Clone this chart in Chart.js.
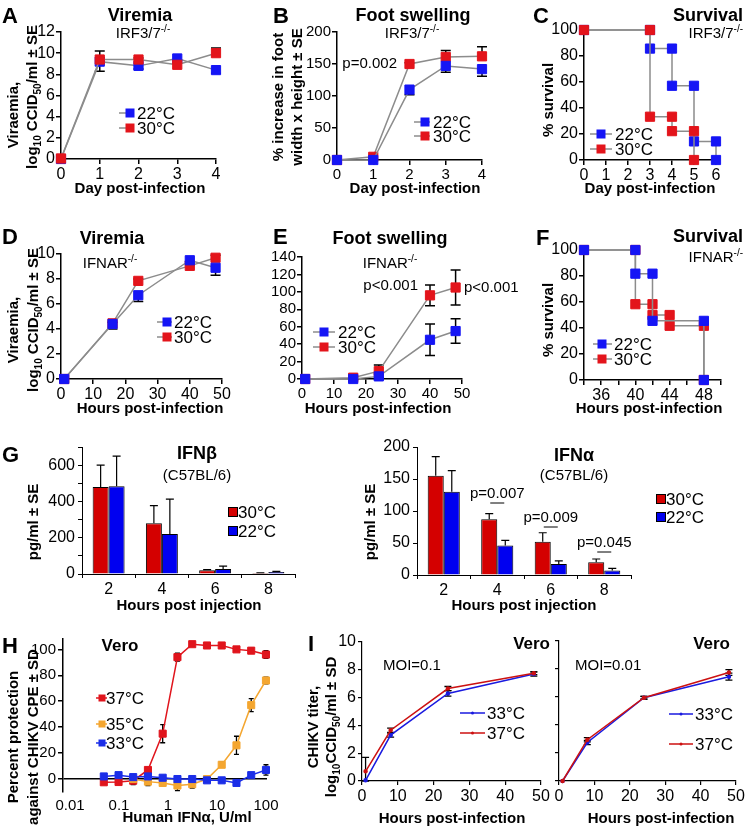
<!DOCTYPE html>
<html>
<head>
<meta charset="utf-8">
<script src="https://cdn.jsdelivr.net/npm/chart.js@4.4.1/dist/chart.umd.min.js"></script>
<style>
html, body { margin: 0; padding: 0; background: #fff; }
#wrap { position: relative; width: 748px; height: 828px; overflow: hidden; background: #fff; }
#wrap canvas { position: absolute; left: 0; top: 0; }
</style>
</head>
<body>
<div id="wrap"></div>
<script>
// ---- data ----
var tempLabels = ['22°C', '30°C'];

// A: viremia, IRF3/7-/-
var daysAB = [0, 1, 2, 3, 4];
var viremA22 = [0, 9.2, 8.8, 9.5, 8.4];
var viremA22Se = [0, 0.9, 0.3, 0.15, 0.3];
var viremA30 = [0.05, 9.4, 9.4, 8.9, 10.0];
var viremA30Se = [0, 0.8, 0.15, 0.15, 0.5];

// B: foot swelling, IRF3/7-/-
var footB22 = [0, 0, 110, 147, 142];
var footB22Se = [0, 0, 8, 10, 11];
var footB30 = [0, 5, 150, 161, 162];
var footB30Se = [0, 0, 2, 10, 15];

// C: survival, IRF3/7-/-
var survC22Day = [0, 3, 3, 4, 4, 5, 5, 6, 6];
var survC22 = [100, 100, 85.7, 85.7, 57.1, 57.1, 14.3, 14.3, 0];
var survC30Day = [0, 3, 3, 4, 4, 5, 5];
var survC30 = [100, 100, 33.3, 33.3, 22.2, 22.2, 0];

// D: viremia, IFNAR-/-
var hoursDE = [1, 16, 24, 40, 48];
var viremD22 = [0, 4.4, 6.7, 9.5, 8.9];
var viremD22Se = [0, 0.4, 0.5, 0.1, 0.6];
var viremD30 = [0, 4.45, 7.85, 9.05, 9.7];
var viremD30Se = [0, 0.1, 0.15, 0.1, 0.2];

// E: foot swelling, IFNAR-/-
var footE22 = [0, 0, 3, 45, 55];
var footE22Se = [0, 1, 3, 18, 14];
var footE30 = [0, 1.5, 9, 96, 105];
var footE30Se = [0, 2, 7, 12, 20];

// F: survival, IFNAR-/-
var survF22Hr = [34, 40, 40, 42, 42, 48, 48];
var survF22 = [100, 100, 81.8, 81.8, 45.5, 45.5, 0];
var survF30Hr = [34, 40, 40, 42, 42, 44, 44, 48, 48];
var survF30 = [100, 100, 58.3, 58.3, 50, 50, 41.7, 41.7, 0];
var survFTicks = [34, 36, 38, 40, 42, 44, 46, 48, 50];
var survFLabels = [36, 40, 44, 48];

// G: serum IFN
var injHours = ['2', '4', '6', '8'];
var gLabels = ['30°C', '22°C'];
var ifnB30 = [480, 280, 20, 5];
var ifnB30Se = [120, 97, 4, 2];
var ifnB22 = [484, 221, 28, 11];
var ifnB22Se = [166, 192, 15, 4];
var ifnBTicks = [0, 100, 200, 300, 400, 500, 600, 700];
var ifnA30 = [155, 87, 52, 20];
var ifnA30Se = [30, 9, 14, 5];
var ifnA22 = [130, 46, 17, 7];
var ifnA22Se = [33, 8, 5, 3.5];
var ifnAP = ['', 'p=0.007', 'p=0.009', 'p=0.045'];

// H: protection vs IFNa dose
var hLabels = ['37°C', '35°C', '33°C'];
var ifnDose = [0.049, 0.098, 0.195, 0.39, 0.78, 1.56, 3.125, 6.25, 12.5, 25, 50, 100];
var prot37 = [-2.5, -2.3, -1.3, 7, 35, 94, 104, 103, 103, 100, 99, 96];
var prot37Sd = [1, 1, 3, 1, 7, 3, 1, 1, 1, 1, 2, 3];
var prot35 = [null, null, 0, -2, -3, -5, -4, 0, 11, 26, 57, 76];
var prot35Sd = [0, 0, 1, 3, 2, 4, 3, 1, 2, 7, 5, 2.5];
var prot33 = [2, 3, 1.5, 2, 1, 0, 0, -1, -1, -3, 3, 7];
var prot33Sd = [1, 1, 1, 1, 1, 1, 1, 1, 1, 1, 1, 4];
var doseTicks = [0.01, 0.1, 1, 10, 100];

// I: CHIKV growth in Vero
var iLabels = ['33°C', '37°C'];
var hoursI = [1, 8, 24, 48];
var titer01_33 = [0.05, 3.3, 6.3, 7.7];
var titer01_33Sd = [0, 0.15, 0.2, 0.15];
var titer01_37 = [0.7, 3.65, 6.65, 7.75];
var titer01_37Hi = [1.0, 0.15, 0.15, 0.1];
var titer01_37Lo = [0.7, 0.15, 0.15, 0.1];
var titer001_33 = [0, 2.75, 5.95, 7.45];
var titer001_33Sd = [0, 0.15, 0.1, 0.25];
var titer001_37 = [0, 2.95, 5.95, 7.75];
var titer001_37Sd = [0, 0.15, 0.1, 0.2];

// ---- helpers ----
var W = 748, H = 828, Y_W = 50, X_H = 24;
var FONT = '"Liberation Sans", Arial, Helvetica, sans-serif';
var GREY = '#8c8c8c', BLUE = '#1515f5', RED = '#e3141b';
var RED_BAR = '#d40000', BLUE_BAR = '#0000f0';
var RED_H = '#e0141c', ORANGE = '#f4a630', BLUE_H = '#1b2ee8';
var BLUE_I = '#1a1adf', RED_I = '#cc1111';
var wrap = document.getElementById('wrap');

function rich(ctx, x, y, parts, size, bold, align, rot) {
  ctx.save();
  ctx.translate(x, y);
  if (rot) ctx.rotate(-Math.PI / 2);
  var segs = parts.map(function(p) {
    return typeof p === 'string' ? {t: p, m: ''} : {t: p[0], m: p[1]};
  });
  var total = 0;
  segs.forEach(function(s) {
    s.fs = s.m ? Math.round(size * 0.65) : size;
    ctx.font = (bold ? 'bold ' : '') + s.fs + 'px ' + FONT;
    s.w = ctx.measureText(s.t).width;
    total += s.w;
  });
  var cx = align === 'center' ? -total / 2 : (align === 'right' ? -total : 0);
  ctx.textAlign = 'left';
  ctx.textBaseline = 'alphabetic';
  ctx.fillStyle = '#000';
  segs.forEach(function(s) {
    ctx.font = (bold ? 'bold ' : '') + s.fs + 'px ' + FONT;
    var dy = s.m === 'sup' ? -size * 0.4 : (s.m === 'sub' ? size * 0.25 : 0);
    ctx.fillText(s.t, cx, size * 0.36 + dy);
    cx += s.w;
  });
  ctx.restore();
}

function txt(ctx, s, x, y, size, bold, align) {
  rich(ctx, x, y, [s], size, bold, align || 'center');
}

function legendItem(ctx, o) {
  ctx.save();
  if (o.line) {
    ctx.strokeStyle = o.line;
    ctx.lineWidth = o.lw || 1.5;
    ctx.beginPath();
    ctx.moveTo(o.x0, o.y);
    ctx.lineTo(o.x1, o.y);
    ctx.stroke();
  }
  ctx.fillStyle = o.fill;
  if (o.style === 'circle') {
    ctx.beginPath();
    ctx.arc(o.mx, o.y, o.side / 2, 0, Math.PI * 2);
    ctx.fill();
  } else {
    ctx.fillRect(o.mx - o.side / 2, o.y - o.side / 2, o.side, o.side);
    if (o.border) {
      ctx.strokeStyle = o.border;
      ctx.lineWidth = 1;
      ctx.strokeRect(o.mx - o.side / 2, o.y - o.side / 2, o.side, o.side);
    }
  }
  ctx.restore();
  txt(ctx, o.label, o.tx, o.y, o.size || 17, false, 'left');
}

function pts(xs, ys, hi, lo) {
  var out = [];
  for (var i = 0; i < xs.length; i++) {
    if (ys[i] == null) continue;
    out.push({x: xs[i], y: ys[i], hi: hi ? hi[i] : 0, lo: lo ? lo[i] : 0});
  }
  return out;
}

function drawErr(chart, front) {
  var ctx = chart.ctx, ys = chart.scales.y;
  chart.data.datasets.forEach(function(ds, i) {
    if (!!ds.errFront !== front) return;
    var meta = chart.getDatasetMeta(i);
    ctx.save();
    ctx.strokeStyle = ds.errColor || '#000';
    ctx.lineWidth = ds.errWidth || 1.5;
    meta.data.forEach(function(el, j) {
      var raw = ds.data[j], v, hi, lo;
      if (raw !== null && typeof raw === 'object') { v = raw.y; hi = raw.hi; lo = raw.lo; }
      else { v = raw; hi = ds.errHi ? ds.errHi[j] : 0; lo = ds.errLo ? ds.errLo[j] : 0; }
      var y = ys.getPixelForValue(v), cap = ds.capW || 4;
      [[hi, 1], [lo, -1]].forEach(function(p) {
        if (!p[0]) return;
        var ye = ys.getPixelForValue(v + p[1] * p[0]);
        ctx.beginPath();
        ctx.moveTo(el.x, y); ctx.lineTo(el.x, ye);
        ctx.moveTo(el.x - cap, ye); ctx.lineTo(el.x + cap, ye);
        ctx.stroke();
      });
    });
    ctx.restore();
  });
}

var errorBars = {
  id: 'errorBars',
  beforeDatasetsDraw: function(chart) { drawErr(chart, false); },
  afterDatasetsDraw: function(chart) { drawErr(chart, true); }
};

function axisCfg(o) {
  var isX = o.axis === 'x';
  return {
    type: o.type || 'linear',
    position: isX ? 'bottom' : 'left',
    min: o.min, max: o.max,
    offset: !!o.offset,
    border: {display: o.line !== false, color: '#000', width: o.lw || 1.5},
    grid: {
      display: o.marks !== false,
      drawOnChartArea: !!o.zeroLine,
      drawTicks: true,
      tickLength: o.tickLen == null ? 5 : o.tickLen,
      color: o.zeroLine ? function(c) { return c.tick && c.tick.value === 0 ? '#000' : 'rgba(0,0,0,0)'; } : '#000',
      tickColor: '#000',
      lineWidth: o.lw || 1.5,
      offset: !!o.offset
    },
    ticks: {
      color: '#000',
      font: {family: FONT, size: o.size || 15},
      padding: o.pad == null ? 1 : o.pad,
      autoSkip: false,
      maxRotation: 0,
      callback: function(v, i) { return o.label ? o.label(v, i) : String(v); }
    },
    afterBuildTicks: function(sc) {
      if (o.values) sc.ticks = o.values.map(function(v) { return {value: v}; });
    },
    afterFit: function(sc) {
      if (isX) sc.height = X_H; else sc.width = Y_W;
    }
  };
}

function makeChart(box, type, datasets, xCfg, yCfg, draw, labels) {
  var cv = document.createElement('canvas');
  cv.width = W; cv.height = H;
  cv.style.width = W + 'px'; cv.style.height = H + 'px';
  wrap.appendChild(cv);
  var data = {datasets: datasets};
  if (labels) data.labels = labels;
  return new Chart(cv.getContext('2d'), {
    type: type,
    data: data,
    options: {
      responsive: false,
      animation: false,
      devicePixelRatio: 1,
      events: [],
      layout: {padding: {left: box.l - Y_W, top: box.t, right: W - box.r, bottom: H - box.b - X_H}},
      plugins: {legend: {display: false}, tooltip: {enabled: false}, title: {display: false}},
      scales: {x: xCfg, y: yCfg}
    },
    plugins: [errorBars, {id: 'decor', afterDraw: function(chart) { draw(chart.ctx, chart); }}]
  });
}

function greyLine(data, color) {
  return {
    data: data, borderColor: GREY, borderWidth: 1.5, tension: 0, clip: false,
    pointStyle: 'rect', pointRadius: 6.5, pointBackgroundColor: color, pointBorderColor: color,
    pointBorderWidth: 1, capW: 5
  };
}

function abLegend(ctx, x0, x1, mx, tx, y1, y2) {
  legendItem(ctx, {x0: x0, x1: x1, mx: mx, y: y1, line: GREY, fill: BLUE, side: 9, tx: tx, label: tempLabels[0]});
  legendItem(ctx, {x0: x0, x1: x1, mx: mx, y: y2, line: GREY, fill: RED, side: 9, tx: tx, label: tempLabels[1]});
}

var viraemiaTitle = ['log', ['10', 'sub'], ' CCID', ['50', 'sub'], '/ml ± SE'];

// ---- A ----
makeChart({l: 61, t: 32, r: 216, b: 159}, 'line', [
  greyLine(pts(daysAB, viremA30, viremA30Se, null), RED),
  greyLine(pts(daysAB, viremA22, null, viremA22Se), BLUE)
], axisCfg({axis: 'x', min: 0, max: 4, values: daysAB, size: 16}),
   axisCfg({axis: 'y', min: 0, max: 12, values: [0, 2, 4, 6, 8, 10, 12], size: 16}),
function(ctx) {
  txt(ctx, 'A', 2, 15, 22, true, 'left');
  txt(ctx, 'Viremia', 140, 15, 18, true);
  rich(ctx, 143, 33, ['IRF3/7', ['-/-', 'sup']], 15, false, 'center');
  rich(ctx, 13, 115, ['Viraemia,'], 15, true, 'center', true);
  rich(ctx, 32, 97, viraemiaTitle, 15, true, 'center', true);
  txt(ctx, 'Day post-infection', 140, 188, 15, true);
  abLegend(ctx, 119, 134, 130, 137, 113, 128);
});

// ---- B ----
makeChart({l: 337, t: 32, r: 482, b: 160}, 'line', [
  greyLine(pts(daysAB, footB22, null, footB22Se), BLUE),
  greyLine(pts(daysAB, footB30, footB30Se, null), RED)
], axisCfg({axis: 'x', min: 0, max: 4, values: daysAB, size: 15}),
   axisCfg({axis: 'y', min: 0, max: 200, values: [0, 50, 100, 150, 200], size: 15}),
function(ctx) {
  txt(ctx, 'B', 273, 15, 22, true, 'left');
  txt(ctx, 'Foot swelling', 413, 15, 18, true);
  rich(ctx, 412, 33, ['IRF3/7', ['-/-', 'sup']], 15, false, 'center');
  rich(ctx, 278, 97, ['% increase in foot'], 15, true, 'center', true);
  rich(ctx, 297, 97, ['width x height ± SE'], 15, true, 'center', true);
  txt(ctx, 'Day post-infection', 415, 188, 15, true);
  txt(ctx, 'p=0.002', 397, 63, 15, false, 'right');
  abLegend(ctx, 414, 430, 425, 433, 122, 136);
});

// ---- C ----
makeChart({l: 584, t: 30, r: 716, b: 160}, 'line', [
  greyLine(pts(survC30Day, survC30), RED),
  greyLine(pts(survC22Day, survC22), BLUE)
], axisCfg({axis: 'x', min: 0, max: 6, values: [0, 1, 2, 3, 4, 5, 6], size: 16}),
   axisCfg({axis: 'y', min: 0, max: 100, values: [0, 20, 40, 60, 80, 100], size: 16}),
function(ctx) {
  txt(ctx, 'C', 533, 15, 22, true, 'left');
  txt(ctx, 'Survival', 743, 15, 18, true, 'right');
  rich(ctx, 743, 33, ['IRF3/7', ['-/-', 'sup']], 15, false, 'right');
  rich(ctx, 548, 100, ['% survival'], 15, true, 'center', true);
  txt(ctx, 'Day post-infection', 650, 188, 15, true);
  abLegend(ctx, 590, 612, 601, 615, 134, 149);
});

// ---- D ----
makeChart({l: 61, t: 254, r: 222, b: 379}, 'line', [
  greyLine(pts(hoursDE, viremD22, null, viremD22Se), BLUE),
  greyLine(pts(hoursDE, viremD30, viremD30Se, null), RED)
], axisCfg({axis: 'x', min: 0, max: 50, values: [0, 10, 20, 30, 40, 50], size: 16}),
   axisCfg({axis: 'y', min: 0, max: 10, values: [0, 2, 4, 6, 8, 10], size: 16}),
function(ctx) {
  txt(ctx, 'D', 2, 236, 22, true, 'left');
  txt(ctx, 'Viremia', 112, 238, 18, true);
  rich(ctx, 110, 263, ['IFNAR', ['-/-', 'sup']], 15, false, 'center');
  rich(ctx, 13, 330, ['Viraemia,'], 15, true, 'center', true);
  rich(ctx, 33, 320, viraemiaTitle, 15, true, 'center', true);
  txt(ctx, 'Hours post-infection', 150, 408, 15, true);
  abLegend(ctx, 157, 172, 167, 174, 322, 337);
});

// ---- E ----
makeChart({l: 302, t: 257, r: 462, b: 379}, 'line', [
  greyLine(pts(hoursDE, footE22, footE22Se, footE22Se), BLUE),
  greyLine(pts(hoursDE, footE30, footE30Se, footE30Se), RED)
], axisCfg({axis: 'x', min: 0, max: 50, values: [0, 10, 20, 30, 40, 50], size: 15}),
   axisCfg({axis: 'y', min: 0, max: 140, values: [0, 20, 40, 60, 80, 100, 120, 140], size: 15}),
function(ctx) {
  txt(ctx, 'E', 273, 236, 22, true, 'left');
  txt(ctx, 'Foot swelling', 390, 238, 18, true);
  rich(ctx, 390, 263, ['IFNAR', ['-/-', 'sup']], 15, false, 'center');
  txt(ctx, 'p<0.001', 418, 285, 15, false, 'right');
  txt(ctx, 'p<0.001', 464, 287, 15, false, 'left');
  txt(ctx, 'Hours post-infection', 378, 408, 15, true);
  abLegend(ctx, 313, 335, 324, 338, 332, 347);
});

// ---- F ----
makeChart({l: 584, t: 250, r: 721, b: 380}, 'line', [
  greyLine(pts(survF22Hr, survF22), BLUE),
  greyLine(pts(survF30Hr, survF30), RED)
], axisCfg({axis: 'x', min: 34, max: 50, values: survFTicks, size: 16,
            label: function(v) { return survFLabels.indexOf(v) >= 0 ? String(v) : ''; }}),
   axisCfg({axis: 'y', min: 0, max: 100, values: [0, 20, 40, 60, 80, 100], size: 16}),
function(ctx) {
  txt(ctx, 'F', 536, 237, 22, true, 'left');
  txt(ctx, 'Survival', 743, 236, 18, true, 'right');
  rich(ctx, 743, 257, ['IFNAR', ['-/-', 'sup']], 15, false, 'right');
  rich(ctx, 548, 320, ['% survival'], 15, true, 'center', true);
  txt(ctx, 'Hours post-infection', 649, 408, 15, true);
  abLegend(ctx, 593, 612, 602, 614, 344, 359);
});

// ---- G ----
function barSet(vals, se, color) {
  return {data: vals, errHi: se, backgroundColor: color, borderColor: '#000', borderWidth: 1,
          categoryPercentage: 0.6, barPercentage: 1.0, errFront: true, errWidth: 1.2, capW: 4};
}
function gLegend(ctx, mx, y1, y2) {
  legendItem(ctx, {mx: mx, y: y1, fill: RED_BAR, border: '#000', side: 9, tx: mx + 5, label: gLabels[0]});
  legendItem(ctx, {mx: mx, y: y2, fill: BLUE_BAR, border: '#000', side: 9, tx: mx + 5, label: gLabels[1]});
}

makeChart({l: 82, t: 447, r: 295, b: 574}, 'bar', [
  barSet(ifnB30, ifnB30Se, RED_BAR),
  barSet(ifnB22, ifnB22Se, BLUE_BAR)
], axisCfg({axis: 'x', type: 'category', offset: true, size: 16, lw: 1, tickLen: 4, pad: 2,
            label: function(v) { return injHours[v]; }}),
   axisCfg({axis: 'y', min: 0, max: 700, values: ifnBTicks, size: 16, lw: 1, tickLen: 4, pad: 3,
            label: function(v) { return v % 200 === 0 ? String(v) : ''; }}),
function(ctx) {
  txt(ctx, 'G', 2, 454, 22, true, 'left');
  txt(ctx, 'IFNβ', 197, 453, 18, true);
  txt(ctx, '(C57BL/6)', 197, 475, 15, false);
  rich(ctx, 33, 522, ['pg/ml ± SE'], 15, true, 'center', true);
  txt(ctx, 'Hours post injection', 189, 605, 15, true);
  gLegend(ctx, 233, 512, 531);
}, injHours);

var pY = [0, 493, 517, 542];
makeChart({l: 417, t: 447, r: 631, b: 575}, 'bar', [
  barSet(ifnA30, ifnA30Se, RED_BAR),
  barSet(ifnA22, ifnA22Se, BLUE_BAR)
], axisCfg({axis: 'x', type: 'category', offset: true, size: 16, lw: 1, tickLen: 4, pad: 2,
            label: function(v) { return injHours[v]; }}),
   axisCfg({axis: 'y', min: 0, max: 200, values: [0, 50, 100, 150, 200], size: 16, lw: 1, tickLen: 4, pad: 3}),
function(ctx, chart) {
  txt(ctx, 'IFNα', 574, 455, 18, true);
  txt(ctx, '(C57BL/6)', 574, 475, 15, false);
  rich(ctx, 370, 522, ['pg/ml ± SE'], 15, true, 'center', true);
  txt(ctx, 'Hours post injection', 524, 605, 15, true);
  var xs = chart.scales.x;
  ifnAP.forEach(function(p, i) {
    if (!p) return;
    var cx = xs.getPixelForValue(i);
    txt(ctx, p, cx, pY[i], 15, false);
    ctx.save();
    ctx.strokeStyle = '#000'; ctx.lineWidth = 1;
    ctx.beginPath(); ctx.moveTo(cx - 7, pY[i] + 10); ctx.lineTo(cx + 7, pY[i] + 10); ctx.stroke();
    ctx.restore();
  });
  gLegend(ctx, 661, 499, 517);
}, injHours);

// ---- H ----
function hSet(ys, sd, color) {
  return {data: pts(ifnDose, ys, sd, sd), borderColor: color, borderWidth: 1.5, tension: 0, clip: false,
          pointStyle: 'rect', pointRadius: 5, pointBackgroundColor: color, pointBorderColor: color,
          pointBorderWidth: 1, capW: 2.5, errWidth: 1.3};
}
makeChart({l: 63, t: 639, r: 267, b: 792}, 'line', [
  hSet(prot33, prot33Sd, BLUE_H),
  hSet(prot35, prot35Sd, ORANGE),
  hSet(prot37, prot37Sd, RED_H)
], axisCfg({axis: 'x', type: 'logarithmic', min: 0.0072, max: 105, values: doseTicks, size: 15,
            line: false, marks: false, pad: 0}),
   axisCfg({axis: 'y', min: -10, max: 108, values: [0, 20, 40, 60, 80, 100], size: 15, zeroLine: true, pad: 2}),
function(ctx) {
  txt(ctx, 'H', 2, 645, 22, true, 'left');
  txt(ctx, 'Vero', 120, 645, 17, true);
  rich(ctx, 13, 737, ['Percent protection'], 15, true, 'center', true);
  rich(ctx, 33, 737, ['against CHIKV CPE ± SD'], 15, true, 'center', true);
  txt(ctx, 'Human IFNα, U/ml', 187, 817, 15, true);
  var cols = [RED_H, ORANGE, BLUE_H], ys = [698, 724, 743];
  hLabels.forEach(function(l, i) {
    legendItem(ctx, {x0: 96, x1: 107, mx: 102, y: ys[i], line: cols[i], fill: cols[i], side: 7, tx: 106, label: l});
  });
});

// ---- I ----
function iSet(xs, ys, hi, lo, color) {
  return {data: pts(xs, ys, hi, lo), borderColor: color, borderWidth: 1.5, tension: 0, clip: false,
          pointStyle: 'circle', pointRadius: 1.5, pointBackgroundColor: color, pointBorderColor: color,
          capW: 3.5, errWidth: 1.3};
}
function iLegend(ctx, x0, x1, tx, y1, y2) {
  legendItem(ctx, {x0: x0, x1: x1, mx: (x0 + x1) / 2, y: y1, line: BLUE_I, fill: BLUE_I, side: 3, style: 'circle', tx: tx, label: iLabels[0]});
  legendItem(ctx, {x0: x0, x1: x1, mx: (x0 + x1) / 2, y: y2, line: RED_I, fill: RED_I, side: 3, style: 'circle', tx: tx, label: iLabels[1]});
}
var iXTicks = [0, 10, 20, 30, 40, 50], iYTicks = [0, 2, 4, 6, 8, 10];

makeChart({l: 362, t: 642, r: 541, b: 781}, 'line', [
  iSet(hoursI, titer01_37, titer01_37Hi, titer01_37Lo, RED_I),
  iSet(hoursI, titer01_33, titer01_33Sd, titer01_33Sd, BLUE_I)
], axisCfg({axis: 'x', min: 0, max: 50, values: iXTicks, size: 16, lw: 1.2, tickLen: 4, pad: 2}),
   axisCfg({axis: 'y', min: 0, max: 10, values: iYTicks, size: 16, lw: 1.2, tickLen: 4, pad: 2}),
function(ctx) {
  txt(ctx, 'I', 308, 643, 22, true, 'left');
  txt(ctx, 'Vero', 550, 643, 17, true, 'right');
  txt(ctx, 'MOI=0.1', 383, 665, 15, false, 'left');
  rich(ctx, 313, 727, ['CHIKV titer,'], 15, true, 'center', true);
  rich(ctx, 331, 727, ['log', ['10', 'sub'], 'CCID', ['50', 'sub'], '/ml ± SD'], 15, true, 'center', true);
  txt(ctx, 'Hours post-infection', 452, 818, 15, true);
  iLegend(ctx, 460, 485, 487, 713, 733);
});

makeChart({l: 559, t: 641, r: 736, b: 781}, 'line', [
  iSet(hoursI, titer001_37, titer001_37Sd, titer001_37Sd, RED_I),
  iSet(hoursI, titer001_33, titer001_33Sd, titer001_33Sd, BLUE_I)
], axisCfg({axis: 'x', min: 0, max: 50, values: iXTicks, size: 16, lw: 1.2, tickLen: 4, pad: 2}),
   axisCfg({axis: 'y', min: 0, max: 10, values: iYTicks, size: 16, lw: 1.2, tickLen: 4, pad: 2,
            label: function() { return ''; }}),
function(ctx) {
  txt(ctx, 'Vero', 730, 643, 17, true, 'right');
  txt(ctx, 'MOI=0.01', 575, 665, 15, false, 'left');
  txt(ctx, 'Hours post-infection', 661, 818, 15, true);
  iLegend(ctx, 669, 693, 695, 714, 744);
});
</script>
</body>
</html>
